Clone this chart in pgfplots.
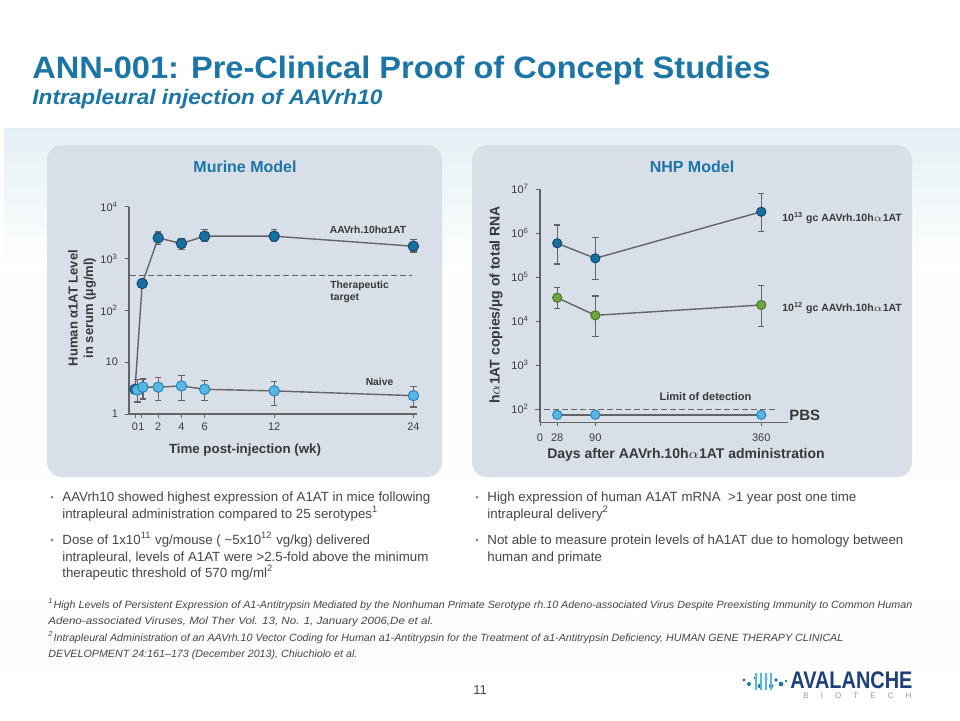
\documentclass[border=0pt]{standalone}
\usepackage{pgfplots}
\pgfplotsset{compat=1.18}
\usepackage{fontspec}
\setmainfont{Liberation Sans}
\usepackage{graphicx}
\newcommand\px[1]{\fontsize{\fpeval{#1/2}pt}{\fpeval{#1*0.6}pt}\selectfont}
\definecolor{titleblue}{RGB}{27,117,166}
\definecolor{panel}{RGB}{217,223,232}
\definecolor{axgray}{RGB}{100,100,100}
\definecolor{ticktext}{RGB}{60,60,60}
\definecolor{bodytext}{RGB}{70,70,70}
\definecolor{darkblue}{RGB}{24,112,160}
\definecolor{darkblueedge}{RGB}{20,75,115}
\definecolor{lightblue}{RGB}{85,185,230}
\definecolor{lightblueedge}{RGB}{45,130,180}
\definecolor{nhpgreen}{RGB}{110,165,60}
\definecolor{nhpgreenedge}{RGB}{75,120,40}
\definecolor{bulletgreen}{RGB}{95,165,70}
\definecolor{bandtop}{RGB}{228,240,244}
\definecolor{logoblue}{RGB}{30,62,125}
\definecolor{logogray}{RGB}{150,155,160}
\pgfplotsset{ebar/.style={error bars/.cd, y dir=both, y explicit,
  error bar style={draw=axgray, line width=0.6pt},
  error mark options={rotate=90, draw=axgray, mark size=1.6pt, line width=0.6pt}}}
\begin{document}
\begin{tikzpicture}[x=0.5pt,y=-0.5pt]
\path[use as bounding box, fill=white] (0,0) rectangle (960,720);
% background bands
\shade[top color=bandtop, bottom color=white] (4,128) rectangle (960,270);
\fill[white!94!panel] (4,270) rectangle (960,478);
\shade[top color=white, bottom color=white!90!panel] (0,585) rectangle (960,665);
% panels
\fill[panel, rounded corners=7.5pt] (47,145) rectangle (442,477);
\fill[panel, rounded corners=7.5pt] (472,145) rectangle (912,477);
% title
\node[anchor=base west, inner sep=0, text=titleblue, font={\px{31}\bfseries}] at (32,78)
  {\resizebox{369pt}{\height}{ANN-001: Pre-Clinical Proof of Concept Studies}};
\node[anchor=base west, inner sep=0, text=titleblue, font={\px{21}\bfseries\itshape}] at (32,104)
  {\resizebox{175pt}{\height}{Intrapleural injection of AAVrh10}};
% panel titles
\node[text=titleblue, font={\px{16}\bfseries}, inner sep=0] at (245,167) {Murine Model};
\node[text=titleblue, font={\px{16}\bfseries}, inner sep=0] at (692,167) {NHP Model};

% ---------- Murine axis ----------
\begin{axis}[at={(64.5pt,-207pt)}, anchor=south west, scale only axis,
  width=144pt, height=103.65pt, ymode=log,
  xmin=-0.52, xmax=24.31, ymin=1, ymax=10000,
  axis x line*=bottom, axis y line*=left,
  axis line style={draw=axgray, line width=0.6pt},
  xtick={0,0.55,2,4,6,12,24}, xticklabels={0,1,2,4,6,12,24},
  ytick={1,10,100,1000,10000},
  yticklabels={1,10,10\textsuperscript{2},10\textsuperscript{3},10\textsuperscript{4}},
  yminorticks=false,
  tick style={draw=axgray, line width=0.5pt}, tick align=outside, major tick length=2pt,
  ticklabel style={font=\px{11}, text=ticktext},
  xticklabel style={yshift=1pt},
  clip=false]
\addplot[draw=axgray, line width=0.5pt, dash pattern=on 3pt off 1.5pt] coordinates {(-0.43,470) (23.85,470)};
\addplot[draw=axgray, line width=0.7pt, mark=*, mark size=2.6pt,
  mark options={fill=darkblue, draw=darkblueedge, line width=0.5pt, solid}, ebar]
  table[x=x, y=y, y error plus=ep, y error minus=em] {
x y ep em
0 3.0 0 0
0.62 330 60 50
2 2500 750 650
4 1950 450 450
6 2700 900 600
12 2700 900 600
24 1730 560 390
};
\addplot[draw=axgray, line width=0.7pt, mark=*, mark size=2.6pt,
  mark options={fill=lightblue, draw=lightblueedge, line width=0.5pt, solid}, ebar]
  table[x=x, y=y, y error plus=ep, y error minus=em] {
x y ep em
0.2 2.9 1.8 1.2
0.68 3.3 1.45 1.35
2 3.3 1.7 1.45
4 3.48 2.0 1.64
6 3.0 1.5 1.16
12 2.79 1.4 1.34
24 2.26 1.1 0.9
};
\end{axis}
\node[rotate=90, align=center, font={\px{13}\bfseries}, text=bodytext!80!black, inner sep=0] at (82,308)
  {\fontsize{6.5pt}{6pt}\selectfont Human α1AT Level\\in serum (µg/ml)};
\node[font={\px{13.3}\bfseries}, text=bodytext!80!black, inner sep=0] at (245,450) {Time post-injection (wk)};
\node[font={\px{10.3}\bfseries}, text=bodytext!80!black, inner sep=0] at (368,230) {AAVrh.10hα1AT};
\node[anchor=north west, align=left, font={\fontsize{5.15pt}{5.6pt}\selectfont\bfseries}, text=bodytext!80!black, inner sep=0] at (330,281) {Therapeutic\\target};
\node[font={\px{10.3}\bfseries}, text=bodytext!80!black, inner sep=0] at (379.5,382) {Naive};

% ---------- NHP axis ----------
\begin{axis}[at={(270pt,-211.15pt)}, anchor=south west, scale only axis,
  width=124.15pt, height=116.65pt, ymode=log,
  xmin=0, xmax=404, ymin=50.7, ymax=1e7,
  axis x line*=bottom, axis y line*=left,
  axis line style={draw=axgray, line width=0.6pt},
  xtick={0,28,90,360}, xticklabels={0,28,90,360},
  ytick={100,1000,10000,100000,1000000,10000000},
  yticklabels={10\textsuperscript{2},10\textsuperscript{3},10\textsuperscript{4},10\textsuperscript{5},10\textsuperscript{6},10\textsuperscript{7}},
  yminorticks=false,
  tick style={draw=axgray, line width=0.5pt}, tick align=outside, major tick length=2pt,
  ticklabel style={font=\px{11}, text=ticktext},
  clip=false]
\addplot[draw=axgray, line width=0.5pt, dash pattern=on 3pt off 1.5pt] coordinates {(-8,100) (387,100)};
\addplot[draw=axgray, line width=0.7pt, mark=*, mark size=2.3pt,
  mark options={fill=darkblue, draw=darkblueedge, line width=0.5pt, solid}, ebar]
  table[x=x, y=y, y error plus=ep, y error minus=em] {
x y ep em
28 586000 934000 387000
90 267000 518000 179000
360 3050000 4750000 1980000
};
\addplot[draw=axgray, line width=0.7pt, mark=*, mark size=2.3pt,
  mark options={fill=nhpgreen, draw=nhpgreenedge, line width=0.5pt, solid}, ebar]
  table[x=x, y=y, y error plus=ep, y error minus=em] {
x y ep em
28 34100 23400 14500
90 13600 23700 9050
360 23300 41900 15800
};
\addplot[draw=axgray, line width=0.7pt, mark=*, mark size=2.3pt,
  mark options={fill=lightblue, draw=lightblueedge, line width=0.5pt, solid}]
  table[x=x, y=y] {
x y
28 75
90 75
360 75
};
\end{axis}
\node[rotate=90, font={\px{14}\bfseries}, text=bodytext!80!black, inner sep=0] at (496,305) {h$\alpha$1AT copies/µg of total RNA};
\node[font={\px{14}\bfseries}, text=bodytext!80!black, inner sep=0] at (686,455) {Days after AAVrh.10h$\alpha$1AT administration};
\node[anchor=west, font={\px{10.5}\bfseries}, text=bodytext!80!black, inner sep=0] at (782,217.7) {10\textsuperscript{13} gc AAVrh.10h$\alpha$1AT};
\node[anchor=west, font={\px{10.5}\bfseries}, text=bodytext!80!black, inner sep=0] at (782,308.3) {10\textsuperscript{12} gc AAVrh.10h$\alpha$1AT};
\node[font={\px{11}\bfseries}, text=bodytext!80!black, inner sep=0] at (705.5,396.7) {Limit of detection};
\node[font={\px{15}\bfseries}, text=bodytext!80!black, inner sep=0] at (804.7,415.7) {PBS};

% ---------- bullets ----------
\foreach \y in {497,540} \fill[bulletgreen] (52,\y) circle (1.5);
\foreach \y in {497,540} \fill[bulletgreen] (477,\y) circle (1.5);
\begin{scope}[every node/.style={anchor=base west, inner sep=0, font=\px{13.3}, text=bodytext}]
\node at (62,501.5) {AAVrh10 showed highest expression of A1AT in mice following};
\node at (62,518.5) {intrapleural administration compared to 25 serotypes\textsuperscript{1}};
\node at (62,544.5) {Dose of 1x10\textsuperscript{11} vg/mouse ( \textasciitilde5x10\textsuperscript{12} vg/kg) delivered};
\node at (62,561.5) {intrapleural, levels of A1AT were >2.5-fold above the minimum};
\node at (62,577.5) {therapeutic threshold of 570 mg/ml\textsuperscript{2}};
\node at (487,501.5) {High expression of human A1AT mRNA \ >1 year post one time};
\node at (487,518.5) {intrapleural delivery\textsuperscript{2}};
\node at (487,544.5) {Not able to measure protein levels of hA1AT due to homology between};
\node at (487,561.5) {human and primate};
\end{scope}

% ---------- footnotes ----------
\begin{scope}[every node/.style={anchor=base west, inner sep=0, font={\px{10.5}\itshape}, text=bodytext}]
\node at (48,608) {\resizebox{432pt}{\height}{\textsuperscript{1}High Levels of Persistent Expression of A1-Antitrypsin Mediated by the Nonhuman Primate Serotype rh.10 Adeno-associated Virus Despite Preexisting Immunity to Common Human}};
\node at (48,624) {\resizebox{192.5pt}{\height}{Adeno-associated Viruses, Mol Ther Vol. 13, No. 1, January 2006,De et al.}};
\node at (48,641) {\resizebox{397.5pt}{\height}{\textsuperscript{2}Intrapleural Administration of an AAVrh.10 Vector Coding for Human a1-Antitrypsin for the Treatment of a1-Antitrypsin Deficiency, HUMAN GENE THERAPY CLINICAL}};
\node at (48,657) {\resizebox{154.5pt}{\height}{DEVELOPMENT 24:161--173 (December 2013), Chiuchiolo et al.}};
\end{scope}

% ---------- page number & logo ----------
\node[font=\px{13}, text=bodytext, inner sep=0] at (480,690) {11};
\foreach \xx/\yy/\r in {744/680/1.6, 749/684/2, 755/678/1.4, 760/686/2.2, 766/679/1.6, 771/686/2.2, 776/680/1.8, 781/684/2.4, 786/681/1.4}
  \fill[titleblue] (\xx,\yy) circle (\r);
\foreach \xx in {756,761,766,771}
  \draw[lightblue, line width=0.6pt] (\xx,673) -- (\xx,690);
\node[anchor=base west, inner sep=0, text=logoblue, font={\px{24}\bfseries}] at (790,688)
  {\resizebox{61pt}{\height}{AVALANCHE}};
\node[anchor=base west, inner sep=0, text=logogray, font=\px{8}] at (803,698)
  {\makebox[54pt][s]{B\hfil I\hfil O\hfil T\hfil E\hfil C\hfil H}};
\end{tikzpicture}
\end{document}
